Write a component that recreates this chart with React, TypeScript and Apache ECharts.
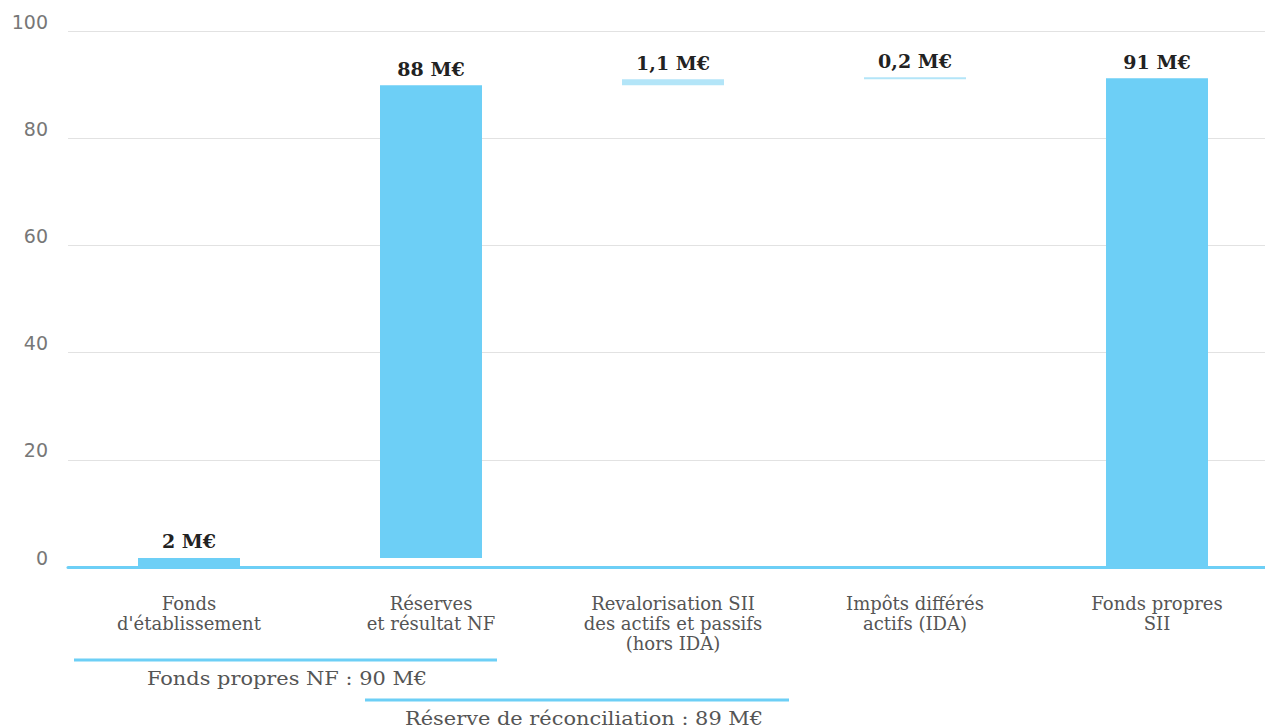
import React, { useEffect, useRef } from "react";
import * as echarts from "echarts";

const categories = [
  "Fonds\nd'établissement",
  "Réserves\net résultat NF",
  "Revalorisation SII\ndes actifs et passifs\n(hors IDA)",
  "Impôts différés\nactifs (IDA)",
  "Fonds propres\nSII",
];
const baseValues = [0, 1.7, 89.9, 91.0, 0];
const barValues = [1.7, 88.2, 1.1, 0.2, 91.2];
const barLabels = ["2 M€", "88 M€", "1,1 M€", "0,2 M€", "91 M€"];
const lightBars = [false, false, true, true, false];
const yTicks = { min: 0, max: 100, interval: 20 };
const bracket1 = "Fonds propres NF : 90 M€";
const bracket2 = "Réserve de réconciliation : 89 M€";

const MAIN = "#6dcff6";
const LIGHT = "#b3e5f8";
const SLAB = "'DejaVu Serif', serif";

export default function App() {
  const ref = useRef<HTMLDivElement>(null);
  useEffect(() => {
    document.body.style.margin = "0";
    document.body.style.overflow = "hidden";
    const chart = echarts.init(ref.current!, undefined, { renderer: "svg" });
    chart.setOption({
      animation: false,
      grid: { left: 68, right: 0, top: 31, bottom: 161, containLabel: false },
      xAxis: {
        type: "category",
        data: categories,
        axisLine: { show: true, lineStyle: { color: MAIN, width: 3 } },
        axisTick: { show: false },
        axisLabel: {
          interval: 0,
          margin: 26,
          fontFamily: SLAB,
          fontSize: 18,
          lineHeight: 20,
          color: "#555",
        },
      },
      yAxis: {
        type: "value",
        min: yTicks.min,
        max: yTicks.max,
        interval: yTicks.interval,
        axisLine: { show: false },
        axisTick: { show: false },
        splitLine: { lineStyle: { color: "#e2e2e2", width: 1 } },
        axisLabel: {
          margin: 20,
          fontFamily: "'DejaVu Sans', sans-serif",
          fontSize: 19,
          color: "#777",
          verticalAlign: "bottom",
        },
      },
      series: [
        {
          type: "bar",
          stack: "w",
          data: baseValues,
          itemStyle: { color: "transparent" },
          barWidth: 102,
          silent: true,
        },
        {
          type: "bar",
          stack: "w",
          barWidth: 102,
          barMinHeight: 2,
          data: barValues.map((v, i) => ({
            value: v,
            itemStyle: { color: lightBars[i] ? LIGHT : MAIN },
          })),
          label: {
            show: true,
            position: "top",
            distance: 7,
            fontFamily: SLAB,
            fontWeight: "bold",
            fontSize: 19,
            color: "#222",
            formatter: (p: any) => barLabels[p.dataIndex],
          },
        },
      ],
      graphic: [
        {
          type: "line",
          shape: { x1: 74, y1: 660, x2: 497, y2: 660 },
          style: { stroke: MAIN, lineWidth: 3 },
        },
        {
          type: "text",
          x: 287,
          y: 678,
          scaleX: 1.1,
          style: {
            text: bracket1,
            fontFamily: SLAB,
            fontSize: 19,
            fill: "#555",
            align: "center",
            verticalAlign: "middle",
          },
        },
        {
          type: "line",
          shape: { x1: 365, y1: 700, x2: 789, y2: 700 },
          style: { stroke: MAIN, lineWidth: 3 },
        },
        {
          type: "text",
          x: 584,
          y: 718,
          scaleX: 1.1,
          style: {
            text: bracket2,
            fontFamily: SLAB,
            fontSize: 19,
            fill: "#555",
            align: "center",
            verticalAlign: "middle",
          },
        },
      ],
    });
    return () => chart.dispose();
  }, []);
  return (
    <div style={{ width: 1265, height: 728, overflow: "hidden" }}>
      <div ref={ref} style={{ width: 1278, height: 728 }} />
    </div>
  );
}
